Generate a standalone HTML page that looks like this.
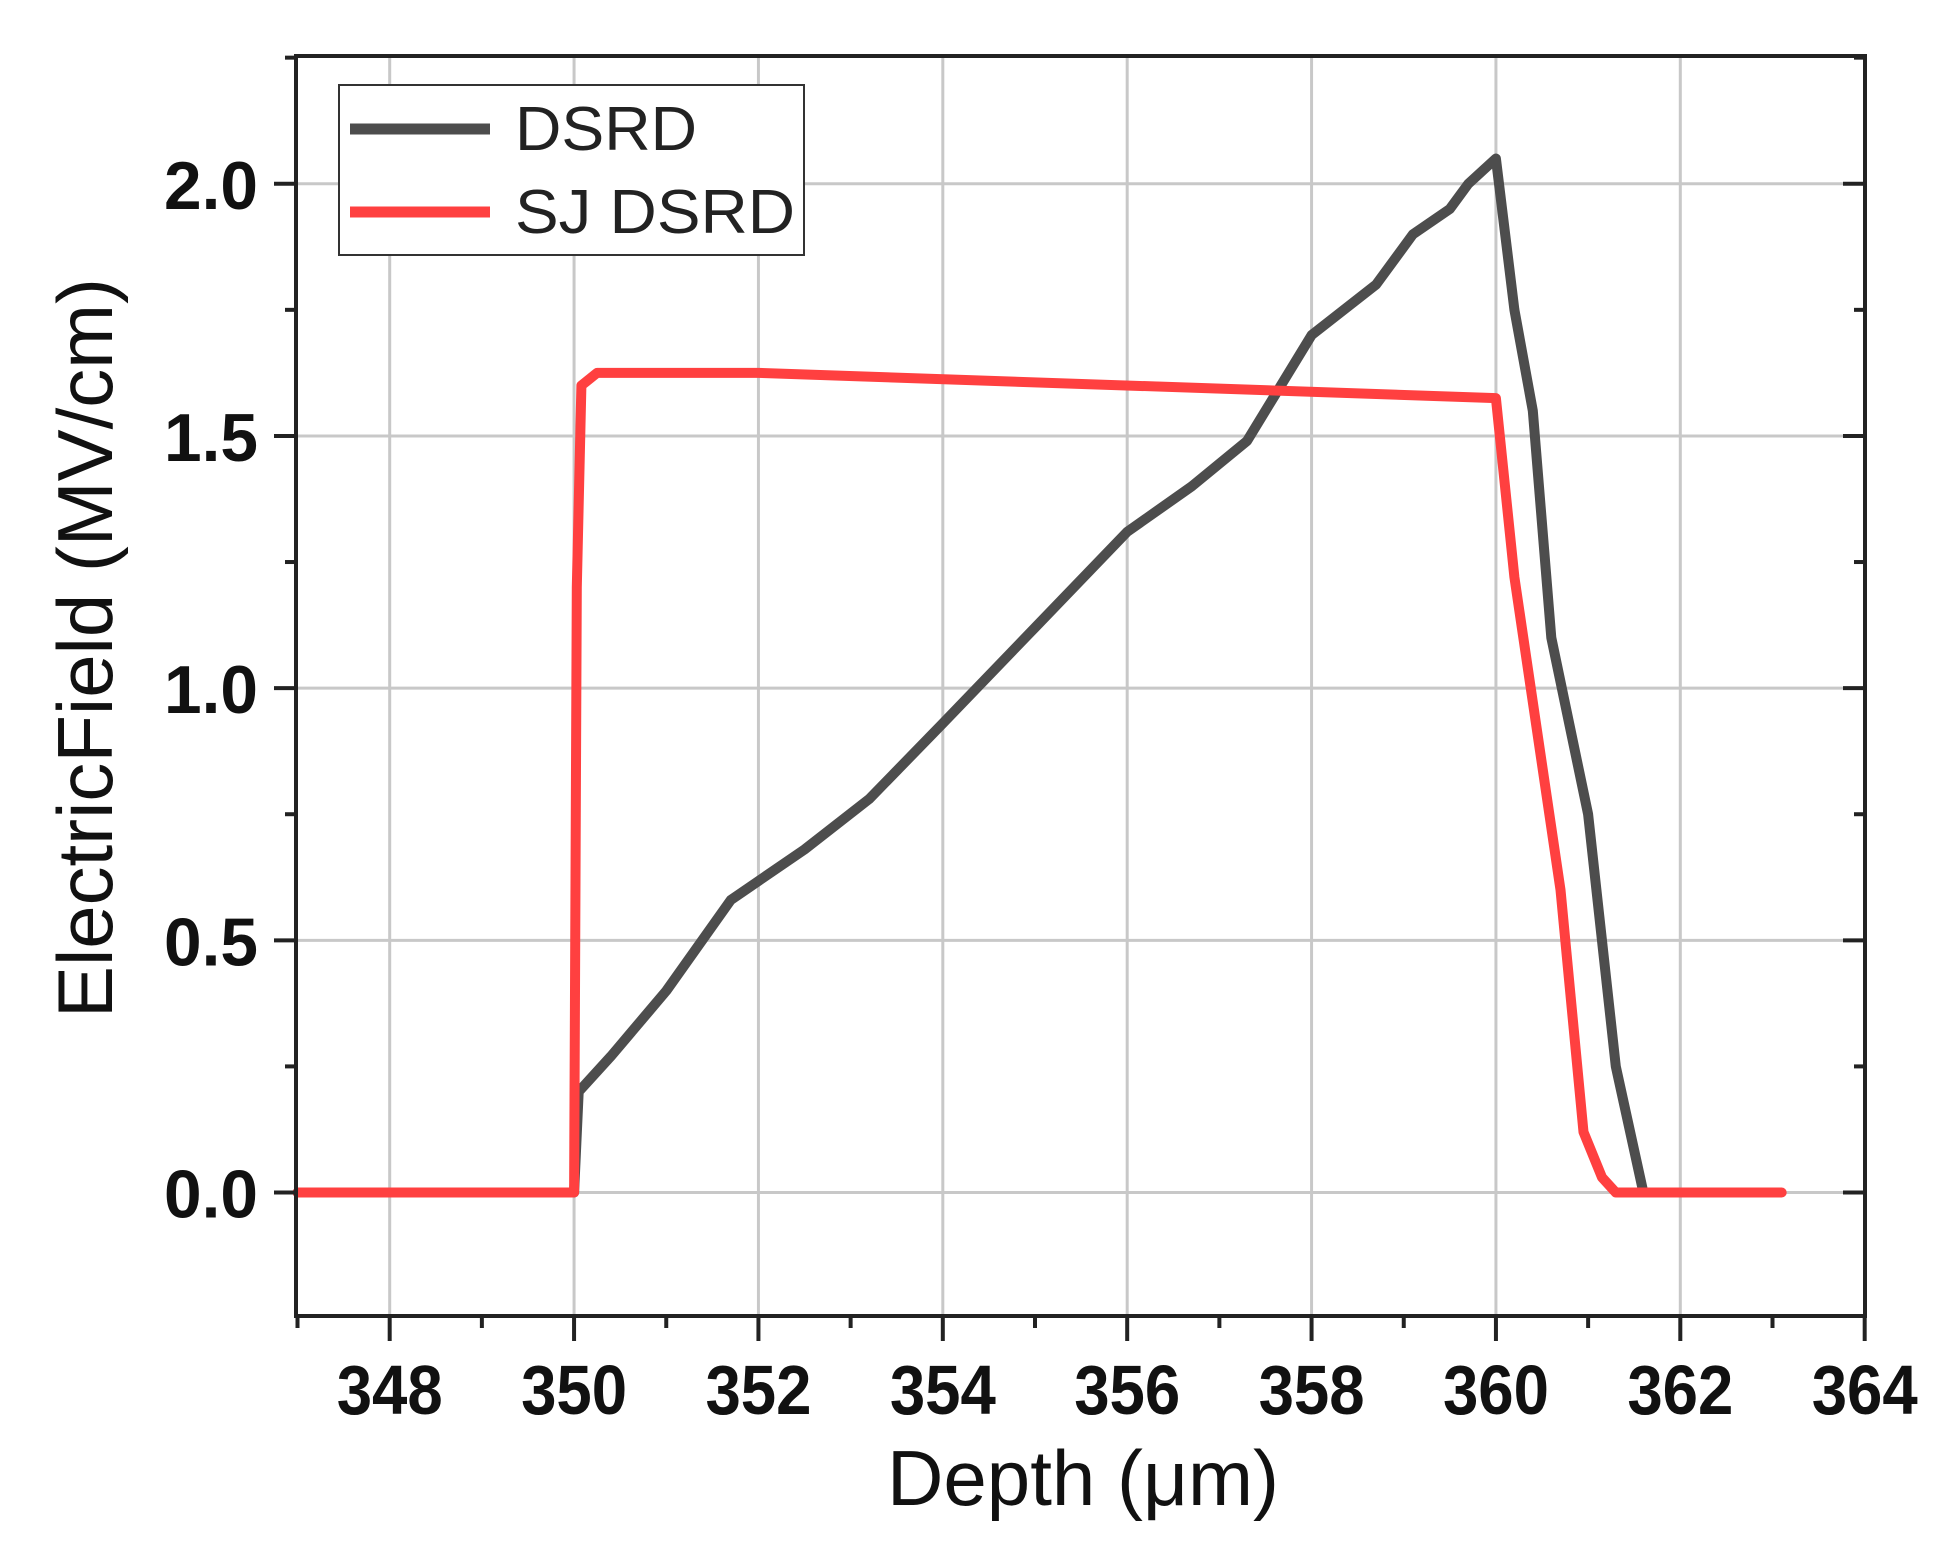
<!DOCTYPE html>
<html><head><meta charset="utf-8"><style>
html,body{margin:0;padding:0;background:#fff;}
svg{display:block}
text{font-family:"Liberation Sans",Arial,sans-serif;}
</style></head><body>
<svg id="s" width="1960" height="1550" viewBox="0 0 1960 1550" xmlns="http://www.w3.org/2000/svg">
<g id="grid" stroke="#c8c8c8" stroke-width="3"></g>
<g id="series" fill="none" stroke-linejoin="round" stroke-linecap="round"></g>
<g id="axes" stroke="#222" fill="none"></g>
<g id="labels"></g>
<rect x="339" y="85" width="465" height="170" fill="#fff" stroke="#333" stroke-width="2"/>
<line x1="350" y1="129" x2="490" y2="129" stroke="#4d4d4d" stroke-width="11"/>
<line x1="350" y1="212" x2="490" y2="212" stroke="#ff4040" stroke-width="11"/>
<text x="515" y="150" font-size="62" fill="#222" textLength="182" lengthAdjust="spacingAndGlyphs">DSRD</text>
<text x="515" y="233" font-size="62" fill="#222" textLength="280" lengthAdjust="spacingAndGlyphs">SJ DSRD</text>
<text x="1083" y="1505" font-size="78" fill="#111" text-anchor="middle" textLength="392" lengthAdjust="spacingAndGlyphs">Depth (μm)</text>
<text transform="translate(112,648) rotate(-90)" font-size="78" fill="#111" text-anchor="middle" textLength="740" lengthAdjust="spacingAndGlyphs">ElectricField (MV/cm)</text>
</svg>
<script>
const NS="http://www.w3.org/2000/svg";
const X=v=>1.25*(238+(v-347)*73.75), Y=y=>1.25*(954-y*403.5);
const L=296,R=1865,T=56,B=1316;
function el(p,t,a,txt){const e=document.createElementNS(NS,t);for(const k in a)e.setAttribute(k,a[k]);if(txt!==undefined)e.textContent=txt;document.getElementById(p).appendChild(e);return e;}
for(let v=348;v<=364;v+=2){if(v<364)el('grid','line',{x1:X(v),y1:T,x2:X(v),y2:B});}
for(let y=0;y<=2.01;y+=0.5){el('grid','line',{x1:L,y1:Y(y),x2:R,y2:Y(y)});}
const ds=[[347,0],[350,0],[350.05,0.2],[350.4,0.27],[351,0.4],[351.7,0.58],[352.5,0.68],[353.2,0.78],[354,0.93],[355,1.12],[356,1.31],[356.7,1.4],[357.3,1.49],[357.6,1.58],[358,1.7],[358.7,1.8],[359.1,1.9],[359.5,1.95],[359.7,2.0],[360,2.05],[360.2,1.75],[360.4,1.55],[360.6,1.1],[361,0.75],[361.3,0.25],[361.6,0.0],[363,0]];
const sj=[[347,0],[350,0],[350.03,1.2],[350.08,1.6],[350.25,1.625],[352,1.625],[360,1.575],[360.2,1.22],[360.7,0.6],[360.95,0.12],[361.15,0.03],[361.3,0],[363.1,0]];
const pts=a=>a.map(p=>X(p[0]).toFixed(1)+","+Y(p[1]).toFixed(1)).join(" ");
el('series','polyline',{points:pts(ds),stroke:"#4d4d4d","stroke-width":10});
el('series','polyline',{points:pts(sj),stroke:"#ff4040","stroke-width":10});
el('axes','rect',{x:L,y:T,width:R-L,height:B-T,"stroke-width":4});
for(let v=347;v<=364;v++){const maj=(v%2==0);const x=X(v);
 el('axes','line',{x1:x,y1:B,x2:x,y2:B+(maj?25:12),"stroke-width":4});
 if(maj)el('labels','text',{x:x,y:1414,"font-size":70,"font-weight":"bold","text-anchor":"middle",fill:"#111",textLength:106,lengthAdjust:"spacingAndGlyphs"},String(v));}
for(let i=-1;i<=9;i++){const y=i*0.25;const py=Y(y);if(py<T||py>B)continue;const maj=(i%2==0);
 el('axes','line',{x1:L,y1:py,x2:L-(maj?22:11),y2:py,"stroke-width":4});
 el('axes','line',{x1:R,y1:py,x2:R-(maj?22:11),y2:py,"stroke-width":4});
 if(maj)el('labels','text',{x:258,y:py+25,"font-size":68,"font-weight":"bold","text-anchor":"end",fill:"#111",textLength:94,lengthAdjust:"spacingAndGlyphs"},y.toFixed(1));}
</script>
</body></html>
